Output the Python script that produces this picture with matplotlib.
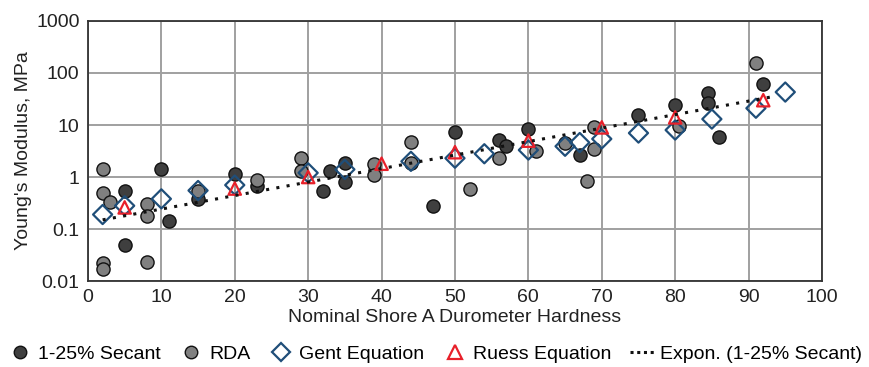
import matplotlib
matplotlib.use('Agg')
import matplotlib.pyplot as plt
from matplotlib.lines import Line2D

plt.rcParams['font.family'] = ['Liberation Sans', 'DejaVu Sans']

# 1-25% secant modulus
secant_x = [5, 5, 10, 11, 15, 20, 23, 32, 33, 35, 35, 47, 50, 56, 57, 60, 67, 75, 80, 84.5, 84.5, 86, 92]
secant_y = [0.55, 0.05, 1.4, 0.14, 0.37, 1.15, 0.68, 0.55, 1.3, 1.9, 0.8, 0.28, 7.2, 5.2, 4.0, 8.5, 2.6, 15.5, 24, 42, 27, 6, 62]

# RDA
rda_x = [2, 2, 3, 2, 2, 8, 8, 8, 15, 23, 29, 29, 39, 39, 44, 44, 52, 56, 61, 65, 68, 69, 69, 80.5, 91]
rda_y = [1.4, 0.5, 0.33, 0.022, 0.017, 0.3, 0.18, 0.023, 0.55, 0.87, 2.3, 1.3, 1.8, 1.1, 4.8, 1.9, 0.6, 2.3, 3.1, 4.5, 0.85, 3.4, 9, 9.5, 155]

# Gent equation
gent_x = [2, 5, 10, 15, 20, 30, 35, 44, 50, 54, 60, 65, 67, 70, 75, 80, 85, 91, 95]
gent_y = [0.19, 0.28, 0.38, 0.55, 0.7, 1.2, 1.4, 2.0, 2.3, 2.8, 3.3, 3.9, 4.6, 5.4, 7, 8, 13, 21, 43]

# Ruess equation
ruess_x = [5, 20, 30, 40, 50, 60, 70, 80, 92]
ruess_y = [0.26, 0.6, 1.0, 1.8, 3.0, 5, 9, 14, 30]

# exponential trendline endpoints (straight on log axis)
trend_x = [2, 93.5]
trend_y = [0.15, 35.5]

fig = plt.figure(figsize=(8.7, 3.67), dpi=100)
ax = fig.add_axes([0.1011, 0.2343, 0.8437, 0.7085])

ms = 90
ax.scatter(secant_x, secant_y, s=ms, facecolor='#3f3f3f', edgecolor='#111111', linewidth=1.0, zorder=3)
ax.scatter(rda_x, rda_y, s=ms, facecolor='#808080', edgecolor='#111111', linewidth=1.0, zorder=3)
ax.scatter(gent_x, gent_y, s=95, marker='D', facecolor='none', edgecolor='#1f4e79', linewidth=1.6, zorder=4)
ax.scatter(ruess_x, ruess_y, s=80, marker='^', facecolor='none', edgecolor='#e8202a', linewidth=1.6, zorder=4)
ax.plot(trend_x, trend_y, color='#111111', linestyle=(0, (1, 2.4)), linewidth=2.2, zorder=5)

ax.set_yscale('log')
ax.set_xlim(0, 100)
ax.set_ylim(0.01, 1000)
ax.set_xticks(range(0, 101, 10))
ax.set_yticks([0.01, 0.1, 1, 10, 100, 1000])
ax.set_yticklabels(['0.01', '0.1', '1', '10', '100', '1000'])
ax.minorticks_off()
ax.tick_params(length=0, labelsize=14, colors='#222222', pad=6)
ax.grid(True, color='#a0a0a0', linewidth=1.4)
ax.set_axisbelow(True)
for s in ax.spines.values():
    s.set_color('#333333')
    s.set_linewidth(1.3)

ax.set_xlabel('Nominal Shore A Durometer Hardness', fontsize=14, color='#222222', labelpad=2)
ax.set_ylabel("Young's Modulus, MPa", fontsize=14, color='#222222', labelpad=3)

handles = [
    Line2D([], [], linestyle='none', marker='o', markersize=9, markerfacecolor='#3f3f3f', markeredgecolor='#111111'),
    Line2D([], [], linestyle='none', marker='o', markersize=9, markerfacecolor='#808080', markeredgecolor='#111111'),
    Line2D([], [], linestyle='none', marker='D', markersize=9, markerfacecolor='none', markeredgecolor='#1f4e79', markeredgewidth=1.6),
    Line2D([], [], linestyle='none', marker='^', markersize=10, markerfacecolor='none', markeredgecolor='#e8202a', markeredgewidth=1.6),
    Line2D([], [], color='#111111', linestyle=(0, (1, 1.2)), linewidth=2.2),
]
labels = ['1-25% Secant', 'RDA', 'Gent Equation', 'Ruess Equation', 'Expon. (1-25% Secant)']
fig.legend(handles, labels, loc='center', bbox_to_anchor=(0.5, 0.035), ncol=5, frameon=False,
           fontsize=14, handlelength=1.2, handletextpad=0.3, columnspacing=1.0)

fig.savefig('out.png', dpi=100)
